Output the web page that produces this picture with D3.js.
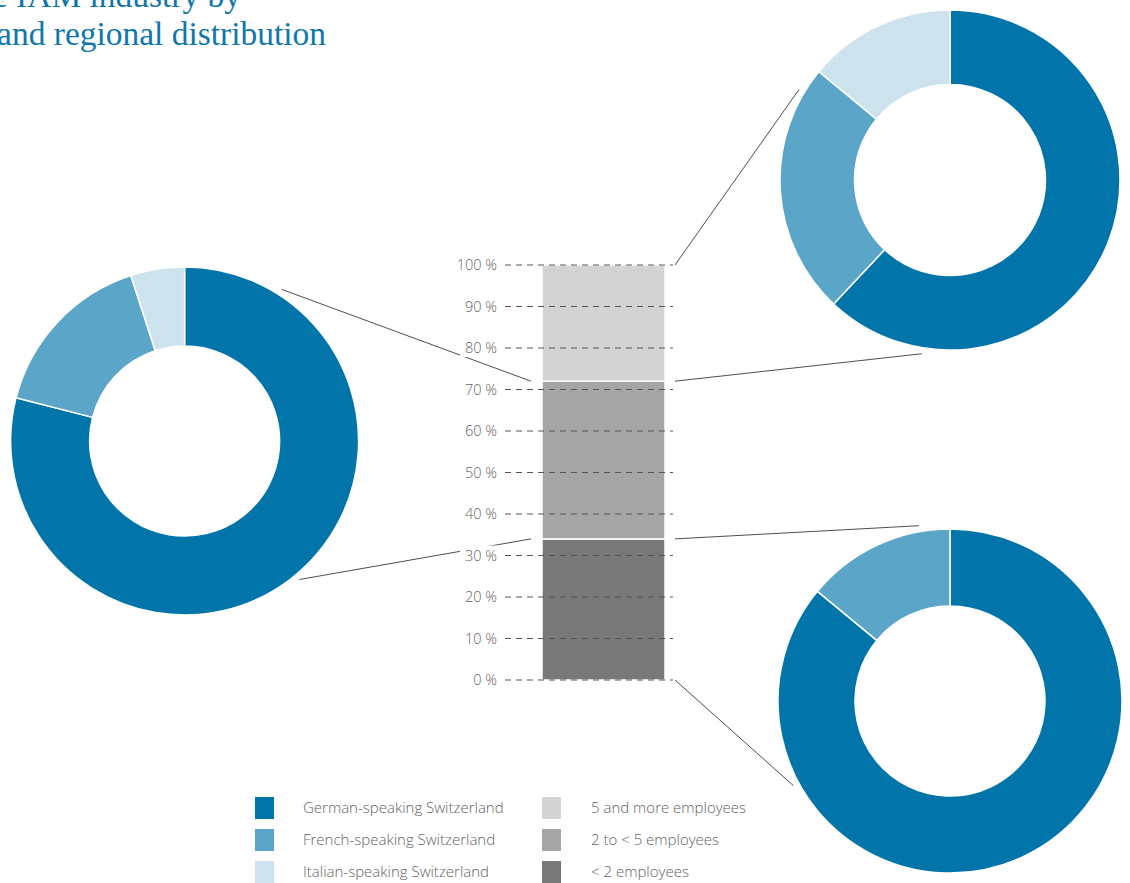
<!DOCTYPE html>
<html>
<head>
<meta charset="utf-8">
<script src="https://cdn.jsdelivr.net/npm/d3@7"></script>
<style>
  html, body { margin: 0; padding: 0; background: #fff; }
  svg { display: block; }
</style>
</head>
<body>
<svg id="chart" width="1130" height="883"></svg>
<script>
// Size classes (bottom to top of the stacked column) and their shares in %
const sizeClasses = ["< 2 employees", "2 to < 5 employees", "5 and more employees"];
const sizeShares = [34, 38, 28];
const sizeColors = ["#787878", "#a5a5a5", "#d3d3d3"];

// Language regions and their shares in % within each size class
const regions = ["German-speaking Switzerland", "French-speaking Switzerland", "Italian-speaking Switzerland"];
const regionColors = ["#0174a9", "#5ba5c8", "#cce3ee"];
const regionSharesSmall = [86, 14, 0];   // < 2 employees
const regionSharesMid = [79, 16, 5];     // 2 to < 5 employees
const regionSharesLarge = [62, 24, 14];  // 5 and more employees

// Axis ticks
const yTicks = [0, 10, 20, 30, 40, 50, 60, 70, 80, 90, 100];
const titleLines = ["Structure of the IAM industry by", "size and regional distribution"];

const svg = d3.select("#chart");
const grey = "#636363";
const sansFont = "'Open Sans', 'Noto Sans', sans-serif";

// ---- Title (runs off the left edge) ----
// Size the serif title so that "and regional distribution" spans about 329 px.
const titleFont = "'Liberation Serif', serif";
const probe = svg.append("text")
  .attr("font-family", titleFont).attr("font-size", 100)
  .text(titleLines[1].slice(titleLines[1].indexOf("and")));
const titleSize = 100 * 329 / probe.node().getComputedTextLength();
probe.remove();

const title = svg.append("g")
  .attr("font-family", titleFont)
  .attr("font-size", titleSize)
  .attr("fill", "#0f77ab")
  .attr("text-anchor", "end");
title.append("text").attr("x", 241).attr("y", 7).text(titleLines[0]);
title.append("text").attr("x", 326).attr("y", 45).text(titleLines[1]);

// ---- Stacked column ----
const y = d3.scaleLinear().domain([0, 100]).range([680, 265]);
const barX0 = 542, barX1 = 665;

const stackData = [];
let acc = 0;
sizeShares.forEach((v, i) => {
  stackData.push({ name: sizeClasses[i], y0: acc, y1: acc + v, color: sizeColors[i] });
  acc += v;
});

svg.append("g").selectAll("rect")
  .data(stackData)
  .join("rect")
  .attr("x", barX0)
  .attr("width", barX1 - barX0)
  .attr("y", d => y(d.y1))
  .attr("height", d => y(d.y0) - y(d.y1))
  .attr("fill", d => d.color)
  .attr("stroke", "#fff")
  .attr("stroke-width", 1.5);

// Dashed gridlines drawn over the column
svg.append("g").selectAll("line")
  .data(yTicks)
  .join("line")
  .attr("x1", 505).attr("x2", 673)
  .attr("y1", d => y(d)).attr("y2", d => y(d))
  .attr("stroke", "#555")
  .attr("stroke-width", 1)
  .attr("stroke-dasharray", "6,5");

// ---- Donuts ----
const pie = d3.pie().sort(null).value(d => d);
const donuts = [
  { shares: regionSharesMid,   cx: 184.6, cy: 441, r: 174, ri: 95,  band: 1, side: "left",  angles: [32.6, 140.3] },
  { shares: regionSharesLarge, cx: 950,   cy: 180, r: 170, ri: 95.5, band: 2, side: "right", angles: [301, 189.2] },
  { shares: regionSharesSmall, cx: 950,   cy: 701, r: 172, ri: 95,  band: 0, side: "right", angles: [350, 241.6] }
];

// Connector lines from each donut to the edges of its size band
const connectors = svg.append("g")
  .attr("stroke", "#3a3a3a")
  .attr("stroke-width", 0.9)
  .attr("fill", "none");

donuts.forEach(dn => {
  const band = stackData[dn.band];
  const ends = [y(band.y1), y(band.y0)];
  const xBar = dn.side === "left" ? barX0 - 11 : barX1 + 10;
  dn.angles.forEach((a, k) => {
    const rad = a * Math.PI / 180;
    const rr = dn.r + 6;
    connectors.append("line")
      .attr("x1", dn.cx + rr * Math.sin(rad))
      .attr("y1", dn.cy - rr * Math.cos(rad))
      .attr("x2", xBar)
      .attr("y2", ends[k]);
  });
});

donuts.forEach(dn => {
  const arc = d3.arc().innerRadius(dn.ri).outerRadius(dn.r);
  svg.append("g")
    .attr("transform", `translate(${dn.cx},${dn.cy})`)
    .selectAll("path")
    .data(pie(dn.shares).filter(d => d.value > 0))
    .join("path")
    .attr("d", arc)
    .attr("fill", d => regionColors[d.index])
    .attr("stroke", "#fff")
    .attr("stroke-width", 1.5)
    .attr("stroke-linejoin", "round");
});

// ---- Axis labels (knocked out of the connector lines) ----
const labels = svg.append("g")
  .attr("font-family", sansFont)
  .attr("font-size", 14.5)
  .attr("font-weight", 300)
  .attr("fill", grey)
  .attr("text-anchor", "end");

yTicks.forEach(t => {
  const g = labels.append("g");
  const bg = g.append("rect").attr("fill", "#fff");
  const txt = g.append("text")
    .attr("x", 497)
    .attr("y", y(t))
    .attr("dy", "0.35em")
    .text(t + " %");
  const bb = txt.node().getBBox();
  bg.attr("x", bb.x - 5).attr("y", bb.y).attr("width", bb.width + 9).attr("height", bb.height);
});

// ---- Legend ----
const legend = svg.append("g")
  .attr("font-family", sansFont)
  .attr("font-size", 15)
  .attr("font-weight", 300)
  .attr("fill", grey);

const legendCols = [
  { x: 255, tx: 303, items: regions.map((n, i) => ({ name: n, color: regionColors[i] })) },
  { x: 542, tx: 591, items: sizeClasses.map((n, i) => ({ name: n, color: sizeColors[i] })).reverse() }
];

legendCols.forEach(col => {
  col.items.forEach((it, i) => {
    const top = 797 + i * 32;
    legend.append("rect")
      .attr("x", col.x).attr("y", top)
      .attr("width", 19).attr("height", 22)
      .attr("fill", it.color);
    legend.append("text")
      .attr("x", col.tx).attr("y", top + 11)
      .attr("dy", "0.35em")
      .text(it.name);
  });
});
</script>
</body>
</html>
